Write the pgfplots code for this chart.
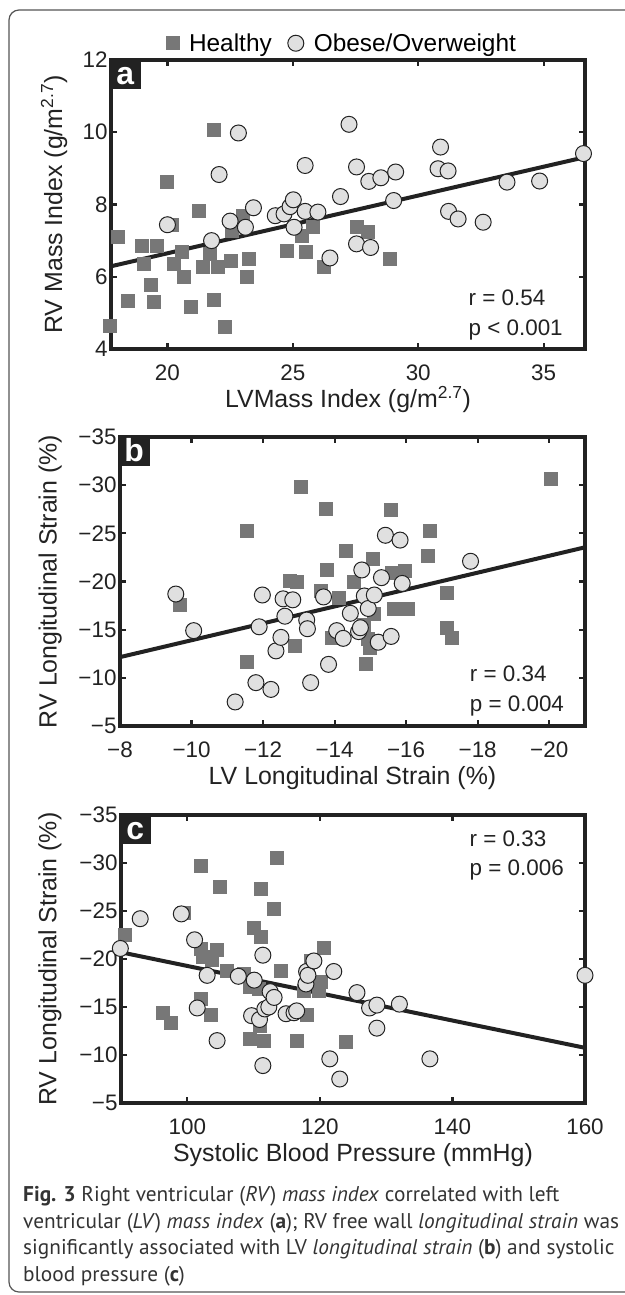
\documentclass[border=0pt]{standalone}
\usepackage{fontspec}
\setmainfont{Liberation Sans}
\newfontfamily\capfont{PT Sans}
\usepackage{pgfplots}
\pgfplotsset{compat=1.18}

\definecolor{axcol}{HTML}{222222}
\definecolor{sqcol}{HTML}{777777}
\definecolor{cifill}{HTML}{E0E0E0}
\definecolor{framecol}{HTML}{555555}
\definecolor{captxt}{HTML}{333333}

\pgfplotsset{
  panel/.style={
    scale only axis, clip=false,
    axis line style={line width=4bp, color=axcol},
    tick align=inside, tick pos=both, major tick length=6bp,
    every tick/.style={line width=2.2bp, color=axcol},
    ticklabel style={font=\fontsize{22.5}{27}\selectfont, text=axcol},
    xticklabel style={anchor=base, yshift=-31bp},
    label style={font=\fontsize{25}{30}\selectfont, text=axcol},
    xlabel style={at={(axis description cs:0.5,0)}, anchor=base, yshift=-58bp},
  },
  healthy/.style={only marks, mark=square*, mark size=6.5bp,
    mark options={fill=sqcol, draw=sqcol, line width=0pt}},
  obese/.style={only marks, mark=*, mark size=8bp,
    mark options={fill=cifill, draw=axcol, line width=1bp}},
  fit/.style={no marks, line width=4bp, color=axcol, forget plot},
}
\tikzset{
  panlab/.style={anchor=north west, fill=axcol, text=white,
    font=\bfseries\fontsize{32}{32}\selectfont, inner sep=0pt,
    minimum width=32bp, minimum height=31bp, text height=23bp, text depth=1bp,
    xshift=-2bp, yshift=2bp},
  stat/.style={anchor=base west, inner sep=0pt, text=axcol,
    font=\fontsize{22.5}{27}\selectfont},
}

\begin{document}
\begin{tikzpicture}
\useasboundingbox (0,0) rectangle (625bp,-1295bp);
\draw[framecol, line width=1.2bp, rounded corners=10bp]
  (640bp,-10bp) -- (9bp,-10bp) -- (9bp,-1292bp) -- (640bp,-1292bp);

% ---------------- panel a ----------------
\begin{axis}[panel,
  at={(111bp,-349bp)}, anchor=south west,
  width=474bp, height=289bp,
  xmin=17.75, xmax=36.65, ymin=4, ymax=12,
  xtick={20,25,30,35}, xticklabels={20,25,30,35},
  ytick={4,6,8,10,12}, yticklabels={4,6,8,10,12},
  xlabel={LVMass Index (g/m\textsuperscript{2.7})},
  ylabel={RV Mass Index (g/m\textsuperscript{2.7})},
  ylabel style={at={(axis description cs:-0.12,0.5)}, anchor=center},
  legend columns=2,
  legend style={at={(0.5,1)}, anchor=south, xshift=-6bp, yshift=3bp,
    draw=none, fill=none, font=\fontsize{24.5}{29}\selectfont,
    /tikz/every odd column/.append style={column sep=8bp},
    /tikz/every even column/.append style={column sep=14bp}},
  legend image code/.code={\draw[mark repeat=2,mark phase=2,#1]
    plot coordinates {(0bp,0bp) (7bp,0bp) (14bp,0bp)};},
]
\addplot[healthy] table {
17.71 4.64
18.02 7.11
18.43 5.33
18.98 6.86
19.06 6.35
19.33 5.78
19.46 5.29
19.60 6.86
20.00 8.62
20.20 7.42
20.25 6.35
20.60 6.68
20.68 5.98
20.92 5.17
21.24 7.81
21.43 6.26
21.71 6.63
21.87 10.06
21.87 5.35
22.03 6.28
22.29 4.61
22.54 6.44
22.59 7.28
23.02 7.67
23.17 6.00
23.25 6.49
24.76 6.70
25.37 7.14
25.52 6.68
25.81 7.37
26.24 6.26
27.56 7.39
28.00 7.23
28.86 6.49
};
\addplot[obese] table {
20.00 7.44
21.76 7.00
22.06 8.83
22.50 7.54
22.83 9.98
23.11 7.37
23.43 7.91
24.30 7.69
24.65 7.74
24.89 7.94
25.02 8.13
25.05 7.37
25.49 9.08
25.49 7.81
26.00 7.79
26.48 6.52
26.90 8.22
27.24 10.22
27.54 9.04
27.54 6.91
28.03 8.64
28.10 6.81
28.51 8.74
29.02 8.11
29.10 8.90
30.79 8.99
30.89 9.59
31.19 8.93
31.21 7.81
31.59 7.60
32.59 7.51
33.54 8.62
34.84 8.65
36.59 9.41
};
\addplot[fit] coordinates {(17.75,6.29) (36.65,9.31)};
\legend{Healthy, Obese/Overweight}
\node[panlab] at (rel axis cs:0,1) {a};
\node[stat] at (rel axis cs:0.754,0.149) {r = 0.54};
\node[stat] at (rel axis cs:0.754,0.046) {p < 0.001};
\end{axis}

% ---------------- panel b ----------------
\begin{axis}[panel,
  at={(120bp,-726bp)}, anchor=south west,
  width=465bp, height=289bp,
  x dir=reverse, y dir=reverse,
  xmin=-21, xmax=-8, ymin=-35, ymax=-5,
  xtick={-8,-10,-12,-14,-16,-18,-20},
  xticklabels={−8,−10,−12,−14,−16,−18,−20},
  ytick={-35,-30,-25,-20,-15,-10,-5},
  yticklabels={−35,−30,−25,−20,−15,−10,−5},
  xlabel={LV Longitudinal Strain (\%)},
  ylabel={RV Longitudinal Strain (\%)},
  ylabel style={at={(axis description cs:-0.15,0.5)}, anchor=center},
]
\addplot[healthy] table {
-9.67 -17.6
-11.56 -11.6
-11.56 -25.2
-12.76 -20.1
-12.94 -19.9
-12.89 -13.3
-13.06 -29.8
-13.61 -19.0
-13.76 -27.5
-13.80 -21.2
-13.94 -14.1
-14.13 -18.3
-14.31 -23.2
-14.53 -19.9
-14.83 -15.5
-14.89 -11.4
-14.94 -14.0
-15.00 -13.1
-15.06 -22.3
-15.11 -16.6
-15.58 -27.4
-15.61 -20.9
-15.67 -17.1
-15.83 -17.1
-15.98 -21.1
-16.06 -17.1
-16.61 -22.6
-16.67 -25.2
-17.13 -18.8
-17.13 -15.2
-17.28 -14.1
-20.06 -30.6
};
\addplot[obese] table {
-9.56 -18.7
-10.06 -14.9
-11.22 -7.5
-11.80 -9.5
-11.89 -15.3
-11.98 -18.6
-12.22 -8.8
-12.36 -12.8
-12.50 -14.2
-12.56 -18.2
-12.61 -16.4
-12.83 -18.1
-13.22 -16.0
-13.24 -15.1
-13.33 -9.5
-13.69 -18.4
-13.83 -11.4
-14.06 -14.9
-14.24 -14.1
-14.44 -16.7
-14.67 -14.8
-14.72 -15.2
-14.76 -21.2
-14.83 -18.5
-14.94 -17.2
-15.11 -18.6
-15.22 -13.7
-15.31 -20.4
-15.42 -24.8
-15.58 -14.3
-15.83 -24.3
-15.89 -19.8
-17.80 -22.1
};
\addplot[fit] coordinates {(-8,-12.15) (-21,-23.55)};
\node[panlab] at (rel axis cs:0,1) {b};
\node[stat] at (rel axis cs:0.752,0.153) {r = 0.34};
\node[stat] at (rel axis cs:0.752,0.050) {p = 0.004};
\end{axis}

% ---------------- panel c ----------------
\begin{axis}[panel,
  at={(121bp,-1103bp)}, anchor=south west,
  width=464bp, height=288bp,
  y dir=reverse,
  xmin=90, xmax=160, ymin=-35, ymax=-5,
  xtick={100,120,140,160}, xticklabels={100,120,140,160},
  ytick={-35,-30,-25,-20,-15,-10,-5},
  yticklabels={−35,−30,−25,−20,−15,−10,−5},
  xlabel={Systolic Blood Pressure (mmHg)},
  ylabel={RV Longitudinal Strain (\%)},
  ylabel style={at={(axis description cs:-0.153,0.5)}, anchor=center},
]
\addplot[healthy] table {
90.56 -22.5
96.4 -14.4
97.5 -13.3
99.5 -24.8
102.1 -29.7
102.0 -21.0
102.1 -15.8
102.3 -20.2
103.6 -14.2
103.7 -19.9
104.5 -20.9
105.0 -27.5
106.0 -18.8
108.5 -18.4
109.5 -17.1
109.5 -11.7
110.1 -23.2
110.8 -16.9
110.9 -13.0
111.1 -27.3
111.1 -22.3
111.5 -11.5
113.1 -25.2
113.5 -30.5
114.1 -18.7
116.5 -11.5
117.6 -16.7
118.0 -14.2
118.6 -19.8
119.8 -16.7
120.1 -17.6
120.6 -21.1
124.0 -11.4
};
\addplot[obese] table {
89.9 -21.1
92.9 -24.2
99.1 -24.7
101.1 -22.0
101.5 -14.9
103.0 -18.3
104.5 -11.5
107.7 -18.2
109.7 -14.1
110.1 -17.8
110.9 -13.7
111.4 -20.4
111.4 -8.9
111.7 -14.8
112.3 -15.0
112.5 -16.6
113.1 -16.0
114.9 -14.3
116.1 -14.4
116.5 -14.6
117.9 -17.4
118.0 -18.7
118.2 -18.3
119.1 -19.8
121.5 -9.6
122.1 -18.7
123.0 -7.5
125.6 -16.5
127.5 -14.9
128.6 -15.2
128.6 -12.8
132.0 -15.3
136.6 -9.6
160.0 -18.3
};
\addplot[fit] coordinates {(90,-20.7) (160,-10.75)};
\node[panlab] at (rel axis cs:0,1) {c};
\node[stat] at (rel axis cs:0.751,0.892) {r = 0.33};
\node[stat] at (rel axis cs:0.751,0.789) {p = 0.006};
\end{axis}

% ---------------- caption ----------------
\begin{scope}[every node/.style={anchor=base west, inner sep=0pt, text=captxt,
    font=\capfont\fontsize{21.4}{26.7}\selectfont}]
\node at (23bp,-1201bp) {\textbf{Fig. 3} Right ventricular (\textit{RV}) \textit{mass index} correlated with left};
\node at (23bp,-1228bp) {ventricular (\textit{LV}) \textit{mass index} (\textbf{a}); RV free wall \textit{longitudinal strain} was};
\node at (23bp,-1254bp) {significantly associated with LV \textit{longitudinal strain} (\textbf{b}) and systolic};
\node at (23bp,-1281bp) {blood pressure (\textbf{c})};
\end{scope}
\end{tikzpicture}
\end{document}
